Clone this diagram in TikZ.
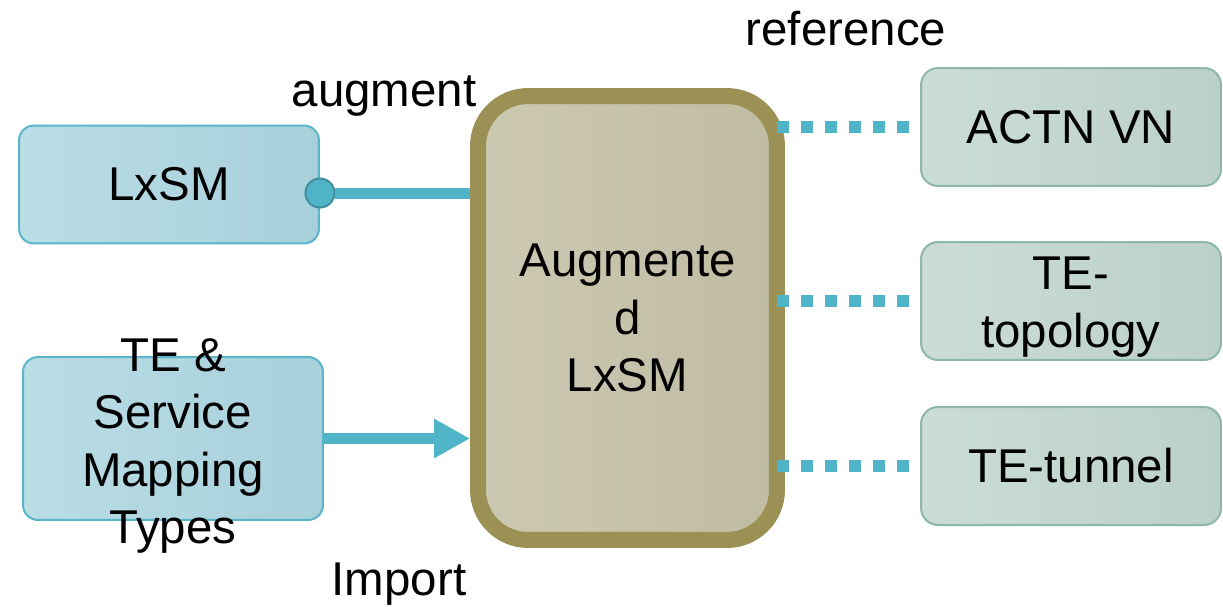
\documentclass[tikz,border=0pt]{standalone}
\usepackage{fontspec}
\setmainfont{Liberation Sans}
\usepackage{xcolor}
\usetikzlibrary{arrows.meta,calc,positioning}
\definecolor{tealline}{HTML}{50B4C9}
\definecolor{dotedge}{HTML}{3F8E9E}
\definecolor{blueA}{HTML}{BADDE6}
\definecolor{blueB}{HTML}{A7D0DB}
\definecolor{blueedge}{HTML}{5AB5C9}
\definecolor{augA}{HTML}{CCC9B3}
\definecolor{augB}{HTML}{C0BCA3}
\definecolor{augedge}{HTML}{9B9155}
\definecolor{greenA}{HTML}{CBDCD6}
\definecolor{greenB}{HTML}{BBD1C8}
\definecolor{greenedge}{HTML}{8DB8A8}

\begin{document}
\begin{tikzpicture}[x=0.02cm,y=-0.02cm,
  lbl/.style={font=\fontsize{27}{32.6}\selectfont, align=center},
  bluebox/.style={draw=blueedge, line width=0.04cm, rounded corners=0.3cm,
    left color=blueA, right color=blueB, minimum width=6cm, inner sep=0pt},
  greenbox/.style={draw=greenedge, line width=0.04cm, rounded corners=0.34cm,
    left color=greenA, right color=greenB, minimum width=6cm,
    minimum height=2.36cm, inner sep=0pt},
  conn/.style={draw=tealline, line width=0.22cm},
  dots/.style={draw=tealline, line width=0.24cm, dash pattern=on 0.24cm off 0.24cm}]
\useasboundingbox (0,0) rectangle (1223,606);
% left side
\node[bluebox, lbl, minimum height=2.36cm] (lxsm) at (169,184.5) {LxSM};
\node[bluebox, minimum height=3.26cm] (temap) at (173,438.5) {};
\node[lbl] (temaptxt) at ([yshift=-0.15cm]temap.center) {TE \&\\Service\\Mapping\\Types};
% middle
\node[lbl, draw=augedge, line width=0.32cm, rounded corners=1cm,
  left color=augA, right color=augB, minimum width=5.98cm,
  minimum height=8.88cm] (aug) at (627.5,318) {Augmente\\d\\LxSM};
% right side
\node[greenbox, lbl] (actn) at (1071,127) {ACTN VN};
\node[greenbox] (tetopo) at (1071,301) {};
\node[lbl] (tetopotxt) at ([yshift=-0.12cm]tetopo.center) {TE-\\topology};
\node[greenbox, lbl] (tetun) at (1071,466) {TE-tunnel};
% connectors
\node[circle, fill=tealline, draw=dotedge, line width=0.04cm,
  minimum size=0.58cm, inner sep=0pt] (dot) at ([yshift=-0.17cm]lxsm.east) {};
\draw[conn] (dot.east) -- (aug.west |- dot.east); %augment
\draw[conn, -{Triangle[length=0.72cm, width=0.74cm]}] (temap.east) -- (aug.west |- temap.east); %import
\draw[dots] ($(aug.east |- actn.west)+(-8,0)$) -- (actn.west); %ref1
\draw[dots] ($(aug.east |- tetopo.west)+(-8,0)$) -- (tetopo.west); %ref2
\draw[dots] ($(aug.east |- tetun.west)+(-8,0)$) -- (tetun.west); %ref3
% labels
\node[lbl, anchor=base] (augment) at (384,106) {augment};
\node[lbl, anchor=base] (reference) at (846,45) {reference};
\node[lbl, anchor=base] (import) at (399,595) {Import};
\end{tikzpicture}
\end{document}
